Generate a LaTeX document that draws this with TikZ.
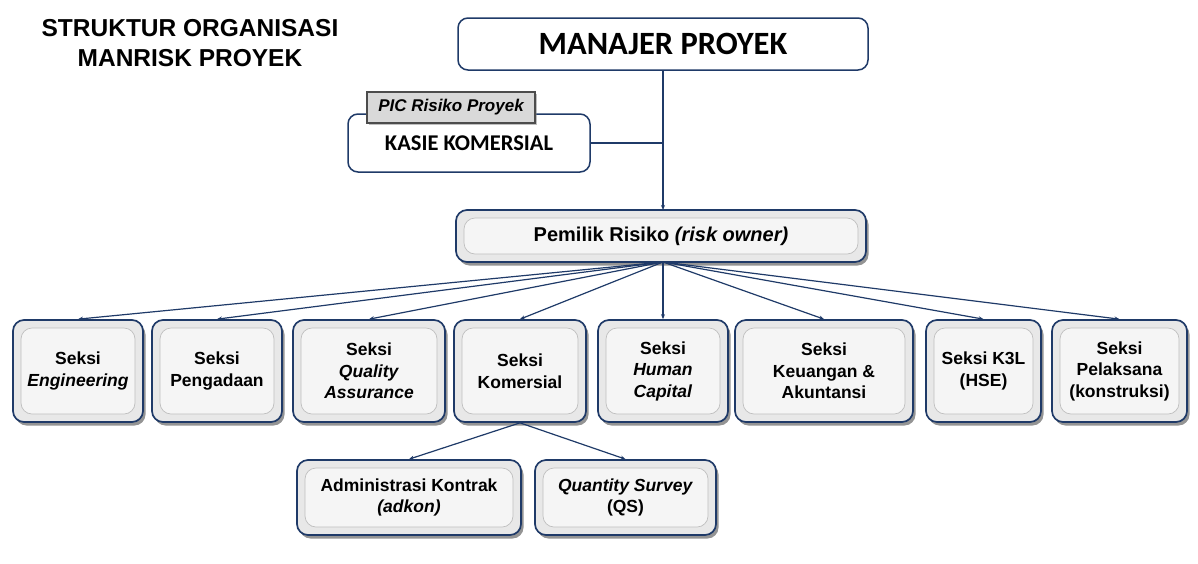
\documentclass[tikz,border=0pt]{standalone}
\usepackage{fontspec}
\setmainfont{Liberation Sans}
\newfontfamily\calib{Carlito}
\usetikzlibrary{arrows.meta,shadows}
\definecolor{navy}{HTML}{1F3A68}
\tikzset{
  conn/.style={draw=navy, line width=1.2pt, -{Stealth[length=5pt,width=4pt]}},
  sect/.style={draw=navy, line width=1.7pt, rounded corners=11pt, fill=gray!18,
    align=center, inner sep=0pt, font=\bfseries\fontsize{17.5}{21.5}\selectfont,
    drop shadow={shadow xshift=2.5pt, shadow yshift=-3.5pt, fill=black!70, opacity=0.6},
    path picture={\draw[gray!50, fill=gray!8, line width=0.7pt]
      ([shift={(8pt,8pt)}]path picture bounding box.south west) rectangle
      ([shift={(-8pt,-8pt)}]path picture bounding box.north east);}},
  topbox/.style={draw=navy, line width=1.5pt, rounded corners=10pt, fill=white,
    align=center, inner sep=0pt},
  tagbox/.style={draw=black!70, line width=1.8pt, fill=gray!30, inner sep=0pt,
    font=\bfseries\itshape\fontsize{17}{20}\selectfont,
    drop shadow={shadow xshift=1.5pt, shadow yshift=-2pt, fill=black!50, opacity=0.5}},
}
\begin{document}
\begin{tikzpicture}[x=1pt,y=-1pt]
\useasboundingbox (0,0) rectangle (1198,563);
\node[font=\bfseries\fontsize{24.5}{30}\selectfont, align=center] (title) at (190,43)
  {STRUKTUR ORGANISASI\\MANRISK PROYEK};
\node[topbox, minimum width=410pt, minimum height=52pt, font=\calib\bfseries\fontsize{32.5}{34}\selectfont] (mp) at (663,44) {MANAJER PROYEK};
\node[topbox, minimum width=242pt, minimum height=58pt, font=\calib\bfseries\fontsize{22.5}{26}\selectfont] (ks) at (469,143) {KASIE KOMERSIAL};
\node[tagbox, minimum width=168pt, minimum height=31pt] (pic) at (451,107.5) {PIC Risiko Proyek};
\node[sect, minimum width=410pt, minimum height=52pt, font=\bfseries\fontsize{20}{24}\selectfont] (po) at (661,236) {Pemilik Risiko \textit{(risk owner)}};
\node[sect, minimum width=130pt, minimum height=102pt] (eng) at (78,371) {Seksi\\\textit{Engineering}};
\node[sect, minimum width=130pt, minimum height=102pt] (peng) at (217,371) {Seksi\\Pengadaan};
\node[sect, minimum width=152pt, minimum height=102pt] (qa) at (369,371) {Seksi\\\textit{Quality}\\\textit{Assurance}};
\node[sect, minimum width=132pt, minimum height=102pt] (kom) at (520,371) {Seksi\\Komersial};
\node[sect, minimum width=130pt, minimum height=102pt] (hc) at (663,371) {Seksi\\\textit{Human}\\\textit{Capital}};
\node[sect, minimum width=178pt, minimum height=102pt] (keu) at (824,371) {Seksi\\Keuangan \&\\Akuntansi};
\node[sect, minimum width=115pt, minimum height=102pt] (k3l) at (983.5,371) {Seksi K3L\\(HSE)};
\node[sect, minimum width=135pt, minimum height=102pt] (pel) at (1119.5,371) {Seksi\\Pelaksana\\(konstruksi)};
\node[sect, minimum width=224pt, minimum height=75pt] (adk) at (409,497.5) {Administrasi Kontrak\\\textit{(adkon)}};
\node[sect, minimum width=181pt, minimum height=75pt] (qs) at (625.5,497.5) {\textit{Quantity Survey}\\(QS)};
\coordinate (j) at (663,143);
\coordinate (pot) at (663,210);
\coordinate (pob) at (663,262);
\draw[conn] (mp.south) -- (pot);
\draw[draw=navy, line width=1.2pt] (ks.east) -- (j);
\foreach \t in {eng,peng,qa,kom,hc,keu,k3l,pel}
  \draw[conn] (pob) -- (\t.north);
\draw[conn] (kom.south) -- (adk.north);
\draw[conn] (kom.south) -- (qs.north);
\end{tikzpicture}
\end{document}
